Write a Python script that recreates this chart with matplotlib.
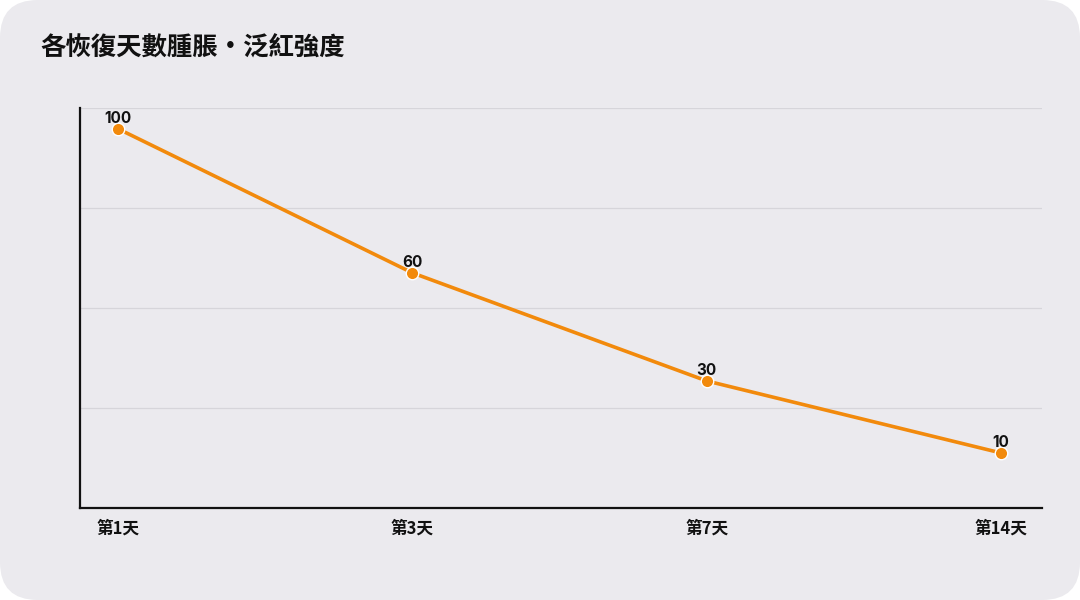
import matplotlib
matplotlib.use("Agg")
import matplotlib.pyplot as plt
from matplotlib.patches import FancyBboxPatch
import numpy as np

plt.rcParams['font.family'] = ['Noto Sans CJK TC', 'DejaVu Sans']

categories = ["第1天", "第3天", "第7天", "第14天"]
values = [100, 60, 30, 10]
title = "各恢復天數腫脹・泛紅強度"

LINE = "#f28a0c"
BG = "#ebeaee"

fig = plt.figure(figsize=(10.8, 6.0), dpi=100)
fig.patch.set_facecolor("white")
card = FancyBboxPatch((0.0, 0.0), 1.0, 1.0, boxstyle="round,pad=0,rounding_size=0.035",
                      transform=fig.transFigure, facecolor=BG, edgecolor="none",
                      mutation_aspect=1.8, zorder=-10)
fig.patches.append(card)

ax = fig.add_axes([80/1080, 92/600, (1042-80)/1080, (508-108)/600])
ax.set_facecolor("none")

x = np.arange(len(categories))
ax.plot(x, values, color=LINE, lw=2.6, marker="o", ms=9, mfc=LINE,
        mec="white", mew=1.0, zorder=3, solid_capstyle="round")
for xi, v in zip(x, values):
    ax.annotate(str(v), (xi, v), xytext=(0, 1.8), textcoords="offset points",
                ha="center", va="bottom", fontsize=11, fontweight="bold",
                family=["Inter", "Noto Sans CJK TC"],
                color="#111111", zorder=4)

ax.set_xlim(-0.13, 3.14)
ymin, ymax = -5.3, 105.8
ax.set_ylim(ymin, ymax)
ax.set_yticks(np.linspace(ymin, ymax, 5))
ax.set_yticklabels([])
ax.tick_params(axis="y", length=0)
ax.grid(axis="y", color="#d6d5da", lw=0.9)
ax.set_axisbelow(True)

ax.set_xticks(x)
ax.set_xticklabels(categories, fontsize=12, fontweight="bold", color="#111111")
ax.tick_params(axis="x", length=0, pad=8)

for s in ["top", "right"]:
    ax.spines[s].set_visible(False)
for s in ["left", "bottom"]:
    ax.spines[s].set_color("#111111")
    ax.spines[s].set_linewidth(1.6)

fig.text(40/1080, 1 - 48/600, title, fontsize=18.3, fontweight="bold",
         color="#111111", ha="left", va="center")

fig.savefig("out.png", dpi=100, facecolor=fig.get_facecolor())
